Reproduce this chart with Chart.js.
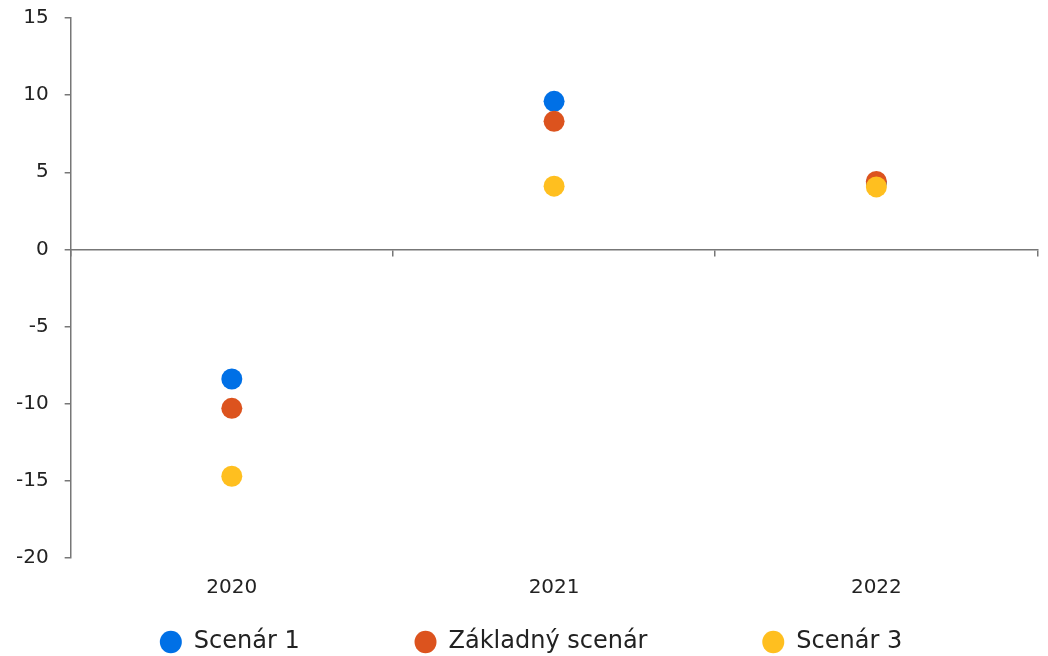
<!DOCTYPE html>
<html>
<head>
<meta charset="utf-8">
<script src="https://cdn.jsdelivr.net/npm/chart.js@4/dist/chart.umd.min.js"></script>
<style>
  html, body { margin: 0; padding: 0; background: #fff; }
  #wrap { width: 1048px; height: 656px; }
</style>
</head>
<body>
<div id="wrap"><canvas id="scenChart"></canvas></div>
<script>
const roky = ['2020', '2021', '2022'];
const scenar1 = [-8.4, 9.6, 4.3];
const zakladny = [-10.3, 8.3, 4.4];
const scenar3 = [-14.7, 4.1, 4.05];
const yTicks = [-20, -15, -10, -5, 0, 5, 10, 15];

const sivaOs = '#777777';
const pismo = 'Verdana, "DejaVu Sans", sans-serif';
// medzera za položkou legendy (okrem poslednej)
const medzeraLegendy = ' '.repeat(14);

const bod = (label, data, farba, poradie) => ({
    label: label,
    data: data,
    backgroundColor: farba,
    borderColor: farba,
    pointRadius: 10.5,
    pointHoverRadius: 10.5,
    pointBorderWidth: 0,
    showLine: false,
    order: poradie
});

// legenda trochu doprava
const posunLegendy = {
    id: 'posunLegendy',
    afterLayout(chart) {
        chart.legend.left += 7;
        chart.legend.right += 7;
    }
};

const config = {
    type: 'line',
    data: {
        labels: roky,
        datasets: [
            bod('Scenár 1', scenar1, '#0070E6', 3),
            bod('Základný scenár', zakladny, '#DC531E', 2),
            bod('Scenár 3', scenar3, '#FFBF1F', 1)
        ]
    },
    options: {
        responsive: true,
        maintainAspectRatio: false,
        animation: false,
        layout: { padding: { left: 0, right: 0, top: 18, bottom: -8 } },
        scales: {
            x: {
                offset: true,
                afterFit: (axis) => { axis.height += 4; },
                grid: { display: false, drawTicks: false },
                border: { display: false },
                ticks: { color: '#222', font: { family: pismo, size: 20 }, padding: 18 }
            },
            // os v nule s ryskami medzi rokmi, nezaberá miesto
            x0: {
                type: 'category',
                labels: roky,
                position: { y: 0 },
                offset: true,
                afterFit: (axis) => { axis.height = 0; },
                ticks: { display: false },
                grid: { offset: true, drawOnChartArea: false, tickLength: 6, color: sivaOs, lineWidth: 1.5 },
                border: { display: true, color: sivaOs, width: 1.5 }
            },
            y: {
                min: -20,
                max: 15,
                afterBuildTicks: (axis) => { axis.ticks = yTicks.map(v => ({ value: v })); },
                afterFit: (axis) => { axis.paddingTop = 0; },
                grid: { drawOnChartArea: false, tickLength: 6, color: sivaOs, lineWidth: 1.5 },
                border: { display: true, color: sivaOs, width: 1.5 },
                ticks: { color: '#222', font: { family: pismo, size: 20 }, padding: 16 }
            }
        },
        plugins: {
            tooltip: { enabled: false },
            legend: {
                position: 'bottom',
                labels: {
                    usePointStyle: true,
                    pointStyle: 'circle',
                    pointStyleWidth: 22,
                    boxHeight: 16,
                    padding: 8,
                    color: '#222',
                    font: { family: pismo, size: 24 },
                    generateLabels: (chart) => Chart.defaults.plugins.legend.labels.generateLabels(chart).map(item => {
                        if (item.datasetIndex < 2) item.text += medzeraLegendy;
                        return item;
                    }),
                    sort: (a, b) => a.datasetIndex - b.datasetIndex
                }
            }
        }
    },
    plugins: [posunLegendy]
};

new Chart(document.getElementById('scenChart'), config);
</script>
</body>
</html>
